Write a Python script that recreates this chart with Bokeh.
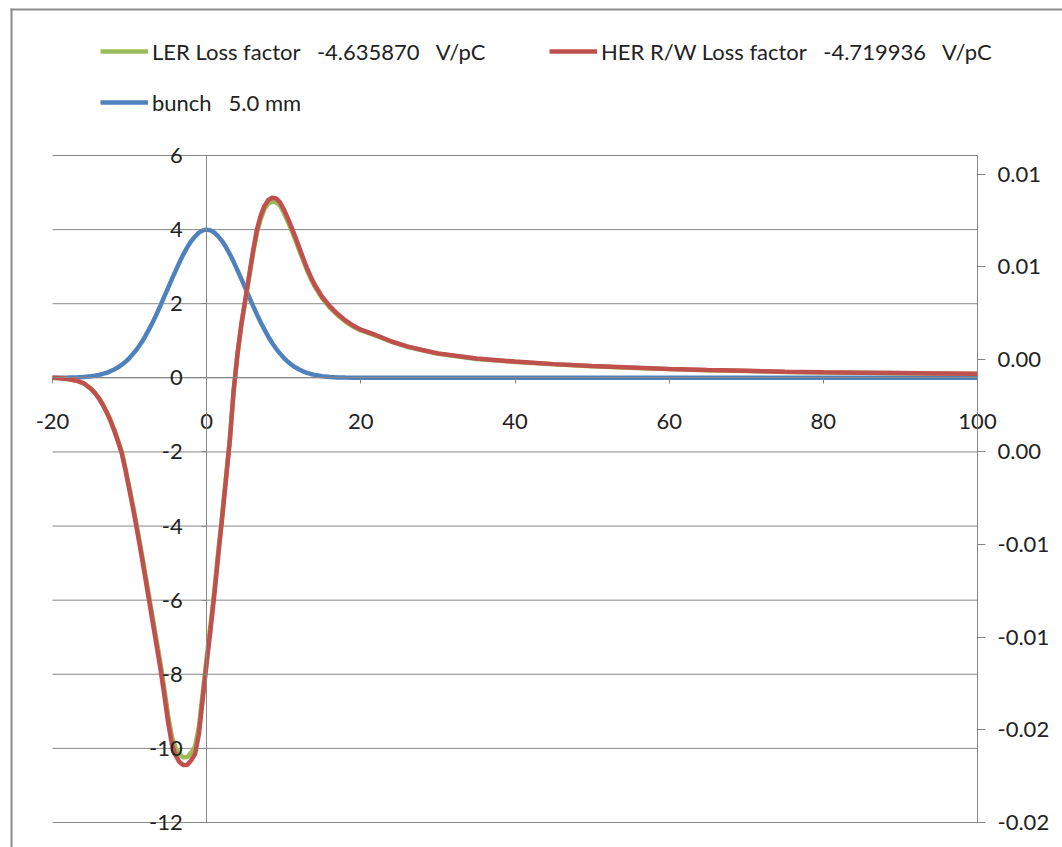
from bokeh.plotting import figure
from bokeh.models import (Range1d, LinearAxis, FixedTicker, Legend, LegendItem,
                          BoxAnnotation, ColumnDataSource)
from bokeh.embed import file_html
from bokeh.resources import INLINE

# ---------------- data ----------------
s_mm = [-20, -19, -18, -17, -16, -15,
        -14.5, -14, -13.5, -13, -12.5, -12, -11.5, -11, -10.5, -10,
        -9.5, -9, -8.5, -8, -7.5, -7, -6.5, -6, -5.5, -5,
        -4.5, -4, -3.5, -3, -2.5, -2, -1.5, -1, -0.5, 0,
        0.5, 1, 1.5, 2, 2.5, 3, 3.5, 4, 4.5, 5,
        5.5, 6, 6.5, 7, 7.5, 8, 8.5, 9, 9.5, 10,
        10.5, 11, 11.5, 12, 12.5, 13, 13.5, 14, 15, 16,
        17, 18, 19, 20, 22, 24, 26, 28, 30, 35,
        40, 45, 50, 55, 60, 65, 70, 75, 80, 85,
        90, 95, 100]

ler_wake = [0.0, -0.01, -0.03, -0.07, -0.14, -0.29,
            -0.40, -0.54, -0.70, -0.90, -1.13, -1.39, -1.69, -2.01, -2.48, -2.99,
            -3.51, -4.07, -4.65, -5.24, -5.85, -6.47, -7.08, -7.69, -8.38, -9.11,
            -9.70, -10.00, -10.17, -10.24, -10.23, -10.11, -9.95, -9.40, -8.48, -7.55,
            -6.66, -5.73, -4.70, -3.72, -2.70, -1.67, -0.34, 0.64, 1.42, 2.06,
            2.70, 3.33, 3.90, 4.28, 4.55, 4.70, 4.76, 4.74, 4.65, 4.46,
            4.23, 3.99, 3.72, 3.45, 3.18, 2.91, 2.68, 2.47, 2.14, 1.89,
            1.69, 1.52, 1.38, 1.28, 1.13, 0.97, 0.84, 0.74, 0.65, 0.51,
            0.43, 0.365, 0.315, 0.275, 0.235, 0.205, 0.185, 0.16, 0.145, 0.135,
            0.125, 0.115, 0.105]

her_wake = [0.0, -0.01, -0.03, -0.07, -0.14, -0.30,
            -0.41, -0.55, -0.72, -0.92, -1.15, -1.42, -1.72, -2.05, -2.53, -3.05,
            -3.58, -4.15, -4.74, -5.35, -5.97, -6.60, -7.22, -7.85, -8.55, -9.30,
            -9.90, -10.20, -10.38, -10.45, -10.44, -10.32, -10.15, -9.60, -8.65, -7.70,
            -6.80, -5.85, -4.80, -3.80, -2.75, -1.70, -0.35, 0.65, 1.45, 2.10,
            2.75, 3.40, 3.98, 4.37, 4.64, 4.80, 4.86, 4.84, 4.74, 4.55,
            4.32, 4.07, 3.80, 3.52, 3.24, 2.97, 2.73, 2.52, 2.18, 1.93,
            1.72, 1.55, 1.41, 1.30, 1.15, 0.98, 0.85, 0.75, 0.66, 0.52,
            0.44, 0.37, 0.32, 0.28, 0.24, 0.21, 0.19, 0.165, 0.15, 0.14,
            0.13, 0.12, 0.11]

bunch = [0.0, 0.003, 0.006, 0.012, 0.024, 0.044,
         0.060, 0.079, 0.105, 0.136, 0.176, 0.225, 0.284, 0.355, 0.44, 0.54,
         0.66, 0.79, 0.94, 1.11, 1.30, 1.50, 1.72, 1.95, 2.19, 2.43,
         2.67, 2.90, 3.13, 3.34, 3.53, 3.69, 3.82, 3.92, 3.98, 4.00,
         3.98, 3.92, 3.82, 3.69, 3.53, 3.34, 3.13, 2.90, 2.67, 2.43,
         2.19, 1.95, 1.72, 1.50, 1.30, 1.11, 0.94, 0.79, 0.66, 0.54,
         0.44, 0.355, 0.284, 0.225, 0.176, 0.136, 0.105, 0.079, 0.044, 0.024,
         0.012, 0.006, 0.003, 0.0, 0.0, 0.0, 0.0, 0.0, 0.0, 0.0,
         0.0, 0.0, 0.0, 0.0, 0.0, 0.0, 0.0, 0.0, 0.0, 0.0,
         0.0, 0.0, 0.0]

series_labels = ["LER Loss factor\u00a0\u00a0 -4.635870\u00a0\u00a0 V/pC",
                 "HER R/W Loss factor\u00a0\u00a0 -4.719936\u00a0\u00a0 V/pC",
                 "bunch\u00a0\u00a0 5.0 mm"]

x_ticks = [-20, 0, 20, 40, 60, 80, 100]
x_labels = ["-20", "0", "20", "40", "60", "80", "100"]
y_ticks = [-12, -10, -8, -6, -4, -2, 0, 2, 4, 6]
y_labels = ["-12", "-10", "-8", "-6", "-4", "-2", "0", "2", "4", "6"]
y2_ticks = [-0.02, -0.015, -0.01, -0.005, 0.0, 0.005, 0.01, 0.015]
y2_labels = ["-0.02", "-0.02", "-0.01", "-0.01", "0.00", "0.00", "0.01", "0.01"]
y2_limits = [-0.02, 0.016]

# ---------------- layout / styling ----------------
W, H = 1062, 847
PX_LEFT, PX_RIGHT, PX_TOP, PX_BOTTOM = 52, 977, 155, 822   # plot area in page pixels

FONT = "Lato"
FSIZE = "22px"
TXT = "#222222"
GRID = "#878787"
BORDER = "#8c8c8c"
GREEN = "#9BBB59"
RED = "#C0504D"
BLUE = "#4F81BD"
LW = 4.5

x_lo, x_hi = x_ticks[0], x_ticks[-1]
y_lo, y_hi = y_ticks[0], y_ticks[-1]
kx = (PX_RIGHT - PX_LEFT) / (x_hi - x_lo)
ky = (PX_BOTTOM - PX_TOP) / (y_hi - y_lo)
s_lo, s_hi = y2_limits
ks = (PX_BOTTOM - PX_TOP) / (s_hi - s_lo)

x_range = Range1d(x_lo - PX_LEFT / kx, x_hi + (W - PX_RIGHT) / kx)
y_range = Range1d(y_lo - (H - PX_BOTTOM) / ky, y_hi + PX_TOP / ky)

src = ColumnDataSource(dict(s=s_mm, ler=ler_wake, her=her_wake, bunch=bunch))

p = figure(width=W, height=H, x_range=x_range, y_range=y_range,
           output_backend="svg", toolbar_location=None,
           x_axis_location=None, y_axis_location=None,
           min_border_left=0, min_border_right=0, min_border_top=0, min_border_bottom=0)
p.outline_line_color = None
p.xgrid.visible = False
p.ygrid.visible = False
p.background_fill_color = "white"
p.border_fill_color = "white"

# horizontal gridlines across the plot area
p.segment(x0=[x_lo] * len(y_ticks), x1=[x_hi] * len(y_ticks), y0=y_ticks, y1=y_ticks,
          line_color=GRID, line_width=1)

def style_axis(ax):
    ax.axis_line_color = GRID
    ax.axis_line_width = 1
    ax.major_tick_line_color = GRID
    ax.minor_tick_line_color = None
    ax.major_tick_in = 0
    ax.major_label_text_font = FONT
    ax.major_label_text_font_size = FSIZE
    ax.major_label_text_color = TXT

xaxis = LinearAxis(fixed_location=0, ticker=FixedTicker(ticks=x_ticks), bounds=(x_lo, x_hi),
                   major_label_overrides=dict(zip(x_ticks, x_labels)))
style_axis(xaxis)
xaxis.major_tick_out = 6
xaxis.major_label_standoff = 30
p.add_layout(xaxis, "below")

yaxis = LinearAxis(fixed_location=0, ticker=FixedTicker(ticks=y_ticks), bounds=(y_lo, y_hi),
                   major_label_overrides=dict(zip(y_ticks, y_labels)))
style_axis(yaxis)
yaxis.major_tick_out = 5
yaxis.major_label_standoff = 19
p.add_layout(yaxis, "left")

p.extra_y_ranges = {"sec": Range1d(s_lo - (H - PX_BOTTOM) / ks, s_hi + PX_TOP / ks)}
raxis = LinearAxis(y_range_name="sec", fixed_location=x_hi, bounds=(s_lo, s_hi),
                   ticker=FixedTicker(ticks=y2_ticks),
                   major_label_overrides=dict(zip(y2_ticks, y2_labels)))
style_axis(raxis)
raxis.major_tick_out = 8
raxis.major_label_standoff = 12
p.add_layout(raxis, "right")

r_bunch = p.line("s", "bunch", source=src, line_color=BLUE, line_width=LW)
r_ler = p.line("s", "ler", source=src, line_color=GREEN, line_width=LW)
r_her = p.line("s", "her", source=src, line_color=RED, line_width=LW)

legend = Legend(items=[LegendItem(label=series_labels[0], renderers=[r_ler]),
                       LegendItem(label=series_labels[1], renderers=[r_her]),
                       LegendItem(label=series_labels[2], renderers=[r_bunch])],
                location=(100, H - 116), orientation="horizontal", ncols=2,
                glyph_width=48, glyph_height=28, label_height=28, label_standoff=4,
                spacing=23, label_width=374, padding=0, margin=0,
                border_line_color=None, background_fill_alpha=0,
                label_text_font=FONT, label_text_font_size=FSIZE, label_text_color=TXT)
p.add_layout(legend)

# outer chart-area border (left and top edges are the visible ones)
p.add_layout(BoxAnnotation(left=10, right=12, top=8, bottom=H,
                           left_units="canvas", right_units="canvas",
                           top_units="canvas", bottom_units="canvas",
                           fill_color=BORDER, fill_alpha=1, line_color=None))
p.add_layout(BoxAnnotation(left=10, right=W, top=8, bottom=10,
                           left_units="canvas", right_units="canvas",
                           top_units="canvas", bottom_units="canvas",
                           fill_color=BORDER, fill_alpha=1, line_color=None))

open("out.html", "w").write(file_html(p, INLINE))
